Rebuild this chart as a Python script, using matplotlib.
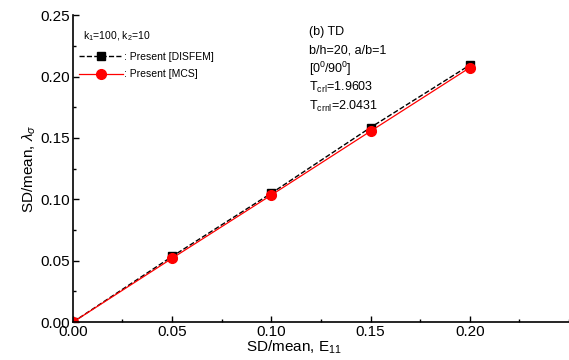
import matplotlib.pyplot as plt
from matplotlib.ticker import MultipleLocator

plt.rcParams['font.family'] = ['Liberation Sans', 'DejaVu Sans']
plt.rcParams['mathtext.fontset'] = 'custom'
plt.rcParams['mathtext.rm'] = 'Liberation Sans'
plt.rcParams['mathtext.it'] = 'Liberation Sans:italic'

# data
cov_e11 = [0.00, 0.05, 0.10, 0.15, 0.20]
disfem = [0.000, 0.0535, 0.105, 0.1585, 0.2093]
mcs = [0.000, 0.052, 0.1035, 0.1555, 0.2072]

fig = plt.figure(figsize=(5.69, 3.6), dpi=100)
ax = fig.add_axes([0.128, 0.105, 0.872, 0.853])

ax.plot(cov_e11, disfem, 'k--', marker='s', ms=6, lw=1, label=': Present [DISFEM]')
ax.plot(cov_e11, mcs, 'r-', marker='o', ms=7, lw=0.9, label=': Present [MCS]')

ax.set_xlim(0, 0.25)
ax.set_ylim(0, 0.25)
ax.xaxis.set_minor_locator(MultipleLocator(0.025))
ax.yaxis.set_major_locator(MultipleLocator(0.05))
ax.yaxis.set_minor_locator(MultipleLocator(0.025))
ax.set_xticks([0, 0.05, 0.10, 0.15, 0.20])
ax.set_xticklabels(['0.00', '0.05', '0.10', '0.15', '0.20'])
ax.set_yticklabels(['%.2f' % v for v in ax.get_yticks()])
ax.tick_params(direction='in', length=4, width=1, labelsize=11, pad=2)
ax.tick_params(which='minor', direction='in', length=2.5, width=1)
for s in ['top', 'right']:
    ax.spines[s].set_visible(False)
for s in ['left', 'bottom']:
    ax.spines[s].set_linewidth(1.2)

ax.set_xlabel('SD/mean, E$_{11}$', fontsize=11, labelpad=1)
ax.xaxis.set_label_coords(0.446, -0.055)
ax.set_ylabel(r'SD/mean, $\lambda_{\sigma}$', fontsize=11, labelpad=2)

ax.text(0.02, 0.93, 'k$_1$=100, k$_2$=10', fontsize=7.5, transform=ax.transAxes,
        va='center')
leg = ax.legend(loc='upper left', bbox_to_anchor=(0.005, 0.895), frameon=False,
                fontsize=7.5, handlelength=4.2, handletextpad=0.1, labelspacing=0.75,
                borderaxespad=0)

info = ['(b) TD', 'b/h=20, a/b=1', r'[0$^0$/90$^0$]',
        'T$_{\\mathrm{crl}}$=1.9603', 'T$_{\\mathrm{crnl}}$=2.0431']
for i, t in enumerate(info):
    ax.text(0.119, 0.2365 - i * 0.0152, t, fontsize=9, va='center')

fig.savefig('out.png', dpi=100)
